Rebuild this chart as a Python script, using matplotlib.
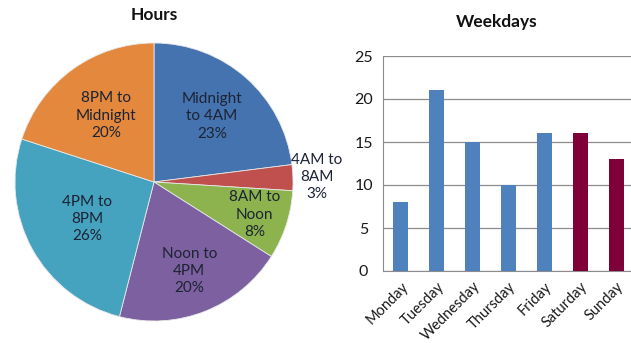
import matplotlib
matplotlib.use("Agg")
import matplotlib.pyplot as plt
import numpy as np

plt.rcParams['font.family'] = ['Lato', 'DejaVu Sans']

# Pie data
hour_labels = ["Midnight\nto 4AM", "4AM to\n8AM", "8AM to\nNoon", "Noon to\n4PM", "4PM to\n8PM", "8PM to\nMidnight"]
hour_pct = [23, 3, 8, 20, 26, 20]
pie_colors = ["#4573B0", "#C0504D", "#8DB34F", "#7D60A0", "#45A3C0", "#E3883C"]
label_dist = [0.63, 1.17, 0.76, 0.69, 0.55, 0.59]

# Bar data
days = ["Monday", "Tuesday", "Wednesday", "Thursday", "Friday", "Saturday", "Sunday"]
day_values = [8, 21, 15, 10, 16, 16, 13]
bar_colors = ["#4F81BD"] * 5 + ["#7F0038"] * 2

W, H = 631, 343
fig = plt.figure(figsize=(W / 100, H / 100), dpi=100)

# Pie axes: center (154,182), radius 139 px
cx, cy, r = 154, 182, 139
axp = fig.add_axes([(cx - r) / W, 1 - (cy + r) / H, 2 * r / W, 2 * r / H])
wedges, _ = axp.pie(hour_pct, colors=pie_colors, startangle=90, counterclock=False,
                    wedgeprops=dict(edgecolor="#e8e8e8", linewidth=0.6))
axp.set_xlim(-1, 1)
axp.set_ylim(-1, 1)
axp.set_aspect('auto')
axp.axis('off')
for w, lab, p, d in zip(wedges, hour_labels, hour_pct, label_dist):
    th = np.deg2rad((w.theta1 + w.theta2) / 2)
    axp.text(d * np.cos(th), d * np.sin(th), f"{lab}\n{p}%", ha='center', va='center',
             fontsize=11, color="#1c2333", linespacing=1.3, clip_on=False)
fig.text(cx / W, 1 - 15 / H, "Hours", ha='center', va='center', fontsize=12.5,
         fontweight='bold', color="#111111")

# Bar axes
x0, x1 = 383, 634
y0, y1 = 56, 271
axb = fig.add_axes([x0 / W, 1 - y1 / H, (x1 - x0) / W, (y1 - y0) / H])
xs = np.arange(len(days))
axb.bar(xs, day_values, width=0.42, color=bar_colors, zorder=3)
axb.set_xlim(-0.5, len(days) - 0.5)
axb.set_ylim(0, 25)
axb.set_yticks([0, 5, 10, 15, 20, 25])
axb.yaxis.grid(True, color="#8c8c8c", linewidth=0.9, zorder=0)
axb.set_axisbelow(True)
for s in ['top', 'right']:
    axb.spines[s].set_visible(False)
for s in ['left', 'bottom']:
    axb.spines[s].set_color("#8c8c8c")
axb.set_xticks(xs)
axb.set_xticklabels(days, rotation=45, ha='right', rotation_mode='anchor', fontsize=10.5)
axb.tick_params(axis='both', length=0, colors="#1a1a1a")
axb.tick_params(axis='x', pad=6, labelsize=10.5)
axb.tick_params(axis='y', pad=14, labelsize=11.5)
for t in axb.get_yticklabels():
    t.set_horizontalalignment('center')
fig.text(497 / W, 1 - 22 / H, "Weekdays", ha='center', va='center', fontsize=12.5,
         fontweight='bold', color="#111111")

fig.savefig("out.png", dpi=100, facecolor="white")
